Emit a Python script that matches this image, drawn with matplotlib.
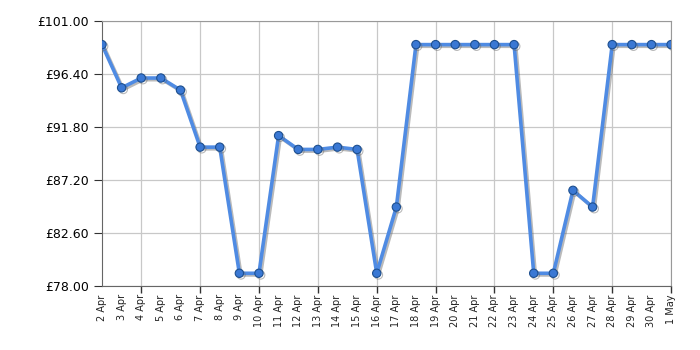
import matplotlib
matplotlib.use("Agg")
import matplotlib.pyplot as plt
import matplotlib.patheffects as pe
import numpy as np

# dates and prices
dates = ["2 Apr", "3 Apr", "4 Apr", "5 Apr", "6 Apr", "7 Apr", "8 Apr", "9 Apr",
         "10 Apr", "11 Apr", "12 Apr", "13 Apr", "14 Apr", "15 Apr", "16 Apr",
         "17 Apr", "18 Apr", "19 Apr", "20 Apr", "21 Apr", "22 Apr", "23 Apr",
         "24 Apr", "25 Apr", "26 Apr", "27 Apr", "28 Apr", "29 Apr", "30 Apr", "1 May"]
prices = [98.95, 95.20, 96.05, 96.05, 95.00, 90.05, 90.05, 79.10,
          79.10, 91.05, 89.85, 89.85, 90.05, 89.85, 79.10,
          84.85, 98.95, 98.95, 98.95, 98.95, 98.95, 98.95,
          79.10, 79.10, 86.30, 84.85, 98.95, 98.95, 98.95, 98.95]
y_ticks = [78.00, 82.60, 87.20, 91.80, 96.40, 101.00]

x = np.arange(len(dates))

fig = plt.figure(figsize=(7, 3.5), dpi=100)
ax = fig.add_axes([0.1457, 0.183, 0.813, 0.757])

shadow = [pe.SimpleLineShadow(offset=(1.2, -1.2), shadow_color="#666666", alpha=0.45),
          pe.Normal()]
ax.plot(x, prices, color="#4f8be3", linewidth=2.6, marker="o", markersize=6,
        markerfacecolor="#3a78d4", markeredgecolor="#1d4f8f", markeredgewidth=0.8,
        path_effects=shadow, zorder=3)

ax.set_xlim(0, len(dates) - 1)
ax.set_ylim(78, 101)

ax.set_yticks(y_ticks)
ax.set_yticklabels(["£%.2f" % v for v in y_ticks], fontsize=9)

# labels on every day, ticks and grid every third day
ax.xaxis.remove_overlapping_locs = False
ax.set_xticks(x)
ax.set_xticklabels(dates, rotation=90, fontsize=7, color="#222222")
ax.tick_params(axis="x", which="major", length=0, pad=6)
ax.set_xticks([i for i in range(len(dates)) if i % 3 == 2], minor=True)
ax.tick_params(axis="x", which="minor", length=5, width=1, color="#333333")
ax.tick_params(axis="y", length=6, color="#333333")

ax.grid(True, which="minor", axis="x", color="#c8c8c8", linewidth=0.9)
ax.grid(True, which="major", axis="y", color="#c8c8c8", linewidth=0.9)
for s in ax.spines.values():
    s.set_color("#999999")
ax.spines["bottom"].set_color("#666666")
ax.spines["left"].set_color("#666666")

fig.savefig("out.png", dpi=100)
